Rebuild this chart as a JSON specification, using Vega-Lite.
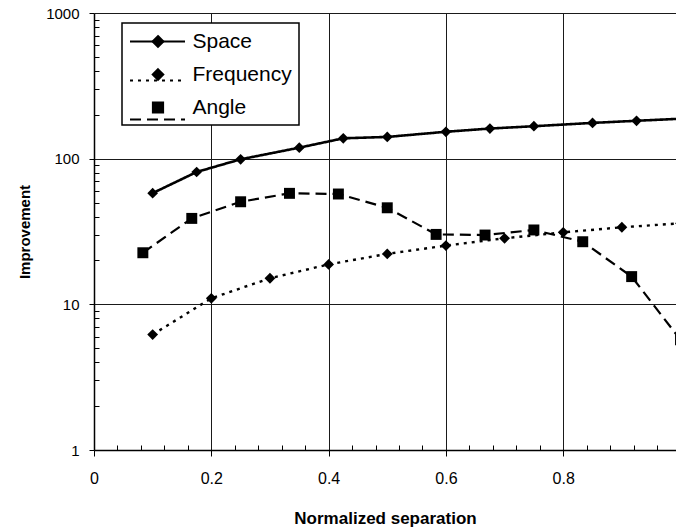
{
  "$schema": "https://vega.github.io/schema/vega-lite/v6.json",
  "width": 582,
  "height": 437,
  "autosize": {"type": "none"},
  "padding": {"left": 94, "top": 13, "right": 0, "bottom": 79},
  "background": "white",
  "config": {
    "view": {"stroke": null},
    "font": "Liberation Sans"
  },
  "data": {
    "values": [
      {"series": "Space", "sep": 0.1, "imp": 58},
      {"series": "Space", "sep": 0.175, "imp": 81},
      {"series": "Space", "sep": 0.25, "imp": 99},
      {"series": "Space", "sep": 0.35, "imp": 119},
      {"series": "Space", "sep": 0.425, "imp": 138},
      {"series": "Space", "sep": 0.5, "imp": 141},
      {"series": "Space", "sep": 0.6, "imp": 153},
      {"series": "Space", "sep": 0.675, "imp": 161},
      {"series": "Space", "sep": 0.75, "imp": 167},
      {"series": "Space", "sep": 0.85, "imp": 176},
      {"series": "Space", "sep": 0.925, "imp": 182},
      {"series": "Space", "sep": 1.0, "imp": 188},
      {"series": "Frequency", "sep": 0.1, "imp": 6.2},
      {"series": "Frequency", "sep": 0.2, "imp": 11},
      {"series": "Frequency", "sep": 0.3, "imp": 15.1},
      {"series": "Frequency", "sep": 0.4, "imp": 18.8},
      {"series": "Frequency", "sep": 0.5, "imp": 22.2},
      {"series": "Frequency", "sep": 0.6, "imp": 25.3},
      {"series": "Frequency", "sep": 0.7, "imp": 28.4},
      {"series": "Frequency", "sep": 0.8, "imp": 31.2},
      {"series": "Frequency", "sep": 0.9, "imp": 33.8},
      {"series": "Frequency", "sep": 1.0, "imp": 36},
      {"series": "Angle", "sep": 0.0833, "imp": 22.6},
      {"series": "Angle", "sep": 0.1667, "imp": 38.9},
      {"series": "Angle", "sep": 0.25, "imp": 50.6},
      {"series": "Angle", "sep": 0.3333, "imp": 57.8},
      {"series": "Angle", "sep": 0.4167, "imp": 57.2},
      {"series": "Angle", "sep": 0.5, "imp": 46},
      {"series": "Angle", "sep": 0.5833, "imp": 30.2},
      {"series": "Angle", "sep": 0.6667, "imp": 29.9},
      {"series": "Angle", "sep": 0.75, "imp": 32.4},
      {"series": "Angle", "sep": 0.8333, "imp": 26.9},
      {"series": "Angle", "sep": 0.9167, "imp": 15.5},
      {"series": "Angle", "sep": 1.0, "imp": 5.7}
    ]
  },
  "encoding": {
    "x": {
      "field": "sep",
      "type": "quantitative",
      "scale": {"domain": [0, 0.9923], "nice": false, "zero": false},
      "axis": {
        "orient": "bottom",
        "values": [0, 0.04, 0.08, 0.12, 0.16, 0.2, 0.24, 0.28, 0.32, 0.36, 0.4, 0.44, 0.48, 0.52, 0.56, 0.6, 0.64, 0.68, 0.72, 0.76, 0.8, 0.84, 0.88, 0.92, 0.96],
        "title": "Normalized separation",
        "titleFont": "Liberation Sans",
        "titleFontSize": 17,
        "titleFontWeight": "bold",
        "titleColor": "black",
        "titlePadding": 24,
        "labelFont": "Liberation Sans",
        "labelFontSize": 16,
        "labelColor": "black",
        "labelFlush": false,
        "labelOverlap": false,
        "labelPadding": 14,
        "labelExpr": "abs(datum.value * 5 - round(datum.value * 5)) < 1e-6 ? format(datum.value, '.1~f') : ''",
        "tickSize": {"condition": {"test": "abs(datum.value * 5 - round(datum.value * 5)) < 1e-6", "value": 6}, "value": -5},
        "tickColor": "black",
        "tickWidth": 1,
        "domainColor": "black",
        "domainWidth": 1.5,
        "grid": true,
        "gridColor": "#1a1a1a",
        "gridWidth": 1,
        "gridOpacity": {"condition": {"test": "datum.value > 0.01 && abs(datum.value * 5 - round(datum.value * 5)) < 1e-6", "value": 1}, "value": 0}
      }
    },
    "y": {
      "field": "imp",
      "type": "quantitative",
      "scale": {"type": "log", "domain": [1, 1000], "nice": false},
      "axis": {
        "orient": "left",
        "values": [1, 2, 3, 4, 5, 6, 7, 8, 9, 10, 20, 30, 40, 50, 60, 70, 80, 90, 100, 200, 300, 400, 500, 600, 700, 800, 900, 1000],
        "title": "Improvement",
        "titleFont": "Liberation Sans",
        "titleFontSize": 15,
        "titleFontWeight": "bold",
        "titleColor": "black",
        "titlePadding": 13,
        "labelFont": "Liberation Sans",
        "labelFontSize": 15,
        "labelColor": "black",
        "labelFlush": false,
        "labelOverlap": false,
        "labelPadding": 10,
        "labelExpr": "abs(log(datum.value) / LN10 - round(log(datum.value) / LN10)) < 1e-6 ? format(datum.value, 'd') : ''",
        "tickSize": {"condition": {"test": "abs(log(datum.value) / LN10 - round(log(datum.value) / LN10)) < 1e-6", "value": 5}, "value": -5},
        "tickColor": "black",
        "tickWidth": 1,
        "domainColor": "black",
        "domainWidth": 1.5,
        "grid": true,
        "gridColor": "#1a1a1a",
        "gridWidth": 1,
        "gridOpacity": {"condition": {"test": "datum.value > 1.5 && abs(log(datum.value) / LN10 - round(log(datum.value) / LN10)) < 1e-6", "value": 1}, "value": 0}
      }
    }
  },
  "layer": [
    {
      "mark": {"type": "line", "clip": true, "color": "black"},
      "encoding": {
        "strokeDash": {
          "field": "series",
          "type": "nominal",
          "scale": {"domain": ["Space", "Frequency", "Angle"], "range": [[1, 0], [3, 5], [11, 6]]},
          "legend": null
        },
        "strokeWidth": {
          "field": "series",
          "type": "nominal",
          "scale": {"domain": ["Angle", "Frequency", "Space"], "range": [2.2, 2.6, 1.8]},
          "legend": {
            "orient": "none",
            "legendX": 28,
            "legendY": 10,
            "title": null,
            "values": ["Space", "Frequency", "Angle"],
            "padding": 7,
            "rowPadding": 11,
            "strokeColor": "black",
            "fillColor": "white",
            "symbolSize": 400,
            "symbolOffset": 17.5,
            "symbolStrokeColor": "black",
            "symbolFillColor": "black",
            "labelFont": "Liberation Sans",
            "labelFontSize": 21,
            "labelColor": "black",
            "labelOffset": 23,
            "encode": {
              "legend": {"update": {"strokeWidth": {"value": 1.5}}},
              "symbols": {
                "update": {
                  "stroke": {"value": "black"},
                  "fill": {"value": "black"},
                  "opacity": {"value": 1},
                  "strokeWidth": {"value": 0.5},
                  "shape": [
                    {"test": "datum.value === 'Angle'", "value": "M-2.75,0M2.75,0M-0.5,-0.5L0.5,-0.5L0.5,0.5L-0.5,0.5Z"},
                    {"value": "M-2.75,0M2.75,0M0,-0.5L0.5,0L0,0.5L-0.5,0Z"}
                  ]
                }
              }
            }
          }
        },
        "opacity": {
          "field": "series",
          "type": "nominal",
          "scale": {"domain": ["Frequency", "Angle", "Space"], "range": [1, 1, 1]},
          "legend": {
            "orient": "none",
            "legendX": 35,
            "legendY": 0,
            "title": null,
            "values": ["Space", "Frequency", "Angle"],
            "padding": 0,
            "rowPadding": -6.5,
            "strokeColor": "transparent",
            "fillColor": "transparent",
            "symbolType": "stroke",
            "symbolSize": 3025,
            "symbolOffset": 0,
            "symbolStrokeColor": "black",
            "symbolStrokeWidth": 2,
            "labelFont": "Liberation Sans",
            "labelFontSize": 21,
            "labelOpacity": 0,
            "encode": {
              "symbols": {
                "update": {
                  "stroke": {"value": "black"},
                  "opacity": {"value": 1},
                  "strokeDash": [
                    {"test": "datum.value === 'Frequency'", "value": [3, 5]},
                    {"test": "datum.value === 'Angle'", "value": [11, 6]},
                    {"value": [1, 0]}
                  ]
                }
              }
            }
          }
        }
      }
    },
    {
      "mark": {"type": "point", "filled": true, "clip": true, "color": "black", "opacity": 1},
      "encoding": {
        "shape": {
          "field": "series",
          "type": "nominal",
          "scale": {"domain": ["Space", "Frequency", "Angle"], "range": ["diamond", "diamond", "square"]},
          "legend": null
        },
        "size": {
          "field": "series",
          "type": "nominal",
          "scale": {"domain": ["Space", "Frequency", "Angle"], "range": [115, 120, 125]},
          "legend": null
        }
      }
    }
  ]
}
